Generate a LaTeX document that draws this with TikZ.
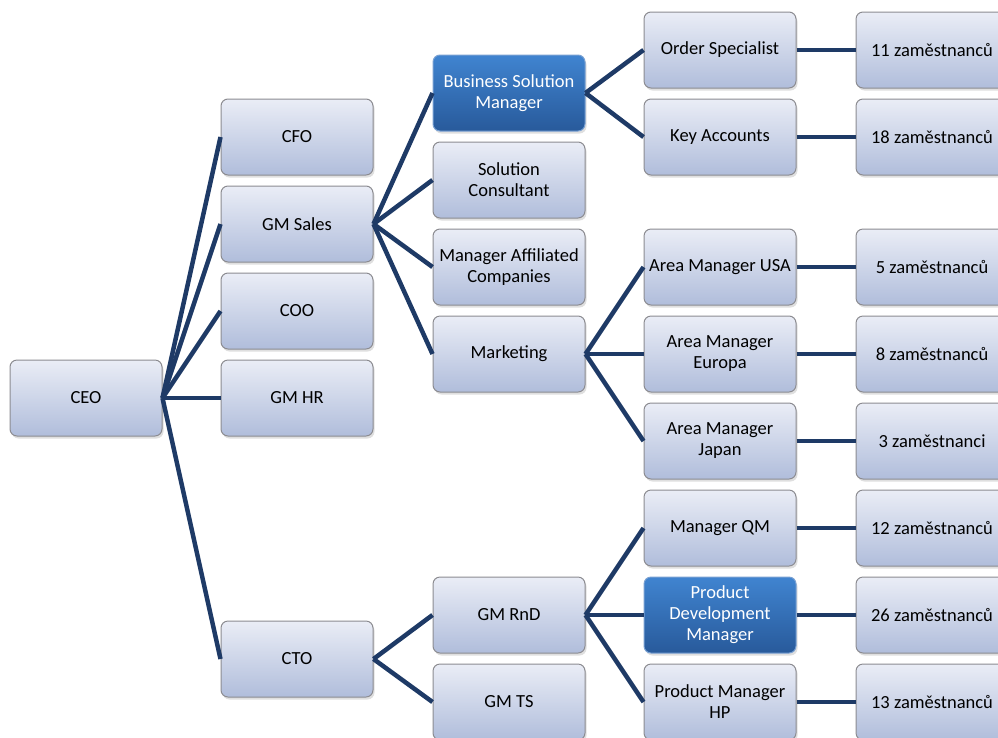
\documentclass[tikz,border=0pt]{standalone}
\usepackage{fontspec}
\setmainfont{Carlito}
\usetikzlibrary{shadows}
\definecolor{lineblue}{RGB}{30,58,102}
\definecolor{boxtop}{RGB}{234,237,246}
\definecolor{boxbot}{RGB}{176,189,219}
\definecolor{boxedge}{RGB}{140,140,145}
\definecolor{hitop}{RGB}{64,132,208}
\definecolor{hibot}{RGB}{40,90,155}
\definecolor{hiedge}{RGB}{120,160,210}
\tikzset{
  box/.style={rectangle, rounded corners=7pt, minimum width=152pt, minimum height=76pt,
    inner sep=1pt, align=center, draw=boxedge, line width=1pt,
    top color=boxtop, bottom color=boxbot,
    font=\fontsize{18.5}{21}\selectfont, text=black,
    drop shadow={opacity=0.25, shadow xshift=1.5pt, shadow yshift=-2.5pt}},
  hibox/.style={box, draw=hiedge, top color=hitop, bottom color=hibot, text=white},
  conn/.style={draw=lineblue, line width=4.5pt}
}
\begin{document}
\begin{tikzpicture}[x=1pt,y=-1pt]
\useasboundingbox (0,0) rectangle (998,737);
\clip (0,0) rectangle (998,737);
% column 0
\node[box] (ceo) at (86,398) {CEO};
% column 1
\node[box] (cfo) at (297,137) {CFO};
\node[box] (gms) at (297,224) {GM Sales};
\node[box] (coo) at (297,311) {COO};
\node[box] (gmhr) at (297,398) {GM HR};
\node[box] (cto) at (297,659) {CTO};
% column 2
\node[hibox] (bsm) at (509,93) {Business Solution\\Manager};
\node[box] (sc) at (509,180) {Solution\\Consultant};
\node[box] (mac) at (509,267) {Manager Affiliated\\Companies};
\node[box] (mkt) at (509,354) {Marketing};
\node[box] (rnd) at (509,615) {GM RnD};
\node[box] (ts) at (509,702) {GM TS};
% column 3
\node[box] (os) at (720,50) {Order Specialist};
\node[box] (ka) at (720,137) {Key Accounts};
\node[box] (usa) at (720,267) {Area Manager USA};
\node[box] (eur) at (720,354) {Area Manager\\Europa};
\node[box] (jap) at (720,441) {Area Manager\\Japan};
\node[box] (qm) at (720,528) {Manager QM};
\node[hibox] (pdm) at (720,615) {Product\\Development\\Manager};
\node[box] (hp) at (720,702) {Product Manager\\HP};
% column 4
\node[box] (n1) at (932,50) {11 zaměstnanců};
\node[box] (n2) at (932,137) {18 zaměstnanců};
\node[box] (n3) at (932,267) {5 zaměstnanců};
\node[box] (n4) at (932,354) {8 zaměstnanců};
\node[box] (n5) at (932,441) {3 zaměstnanci};
\node[box] (n6) at (932,528) {12 zaměstnanců};
\node[box] (n7) at (932,615) {26 zaměstnanců};
\node[box] (n8) at (932,702) {13 zaměstnanců};
% connectors
\foreach \c in {cfo,gms,coo,gmhr,cto} \draw[conn] (ceo.east) -- (\c.west);
\foreach \c in {bsm,sc,mac,mkt} \draw[conn] (gms.east) -- (\c.west);
\foreach \c in {rnd,ts} \draw[conn] (cto.east) -- (\c.west);
\foreach \c in {os,ka} \draw[conn] (bsm.east) -- (\c.west);
\foreach \c in {usa,eur,jap} \draw[conn] (mkt.east) -- (\c.west);
\foreach \c in {qm,pdm,hp} \draw[conn] (rnd.east) -- (\c.west);
\draw[conn] (os) -- (n1);
\draw[conn] (ka) -- (n2);
\draw[conn] (usa) -- (n3);
\draw[conn] (eur) -- (n4);
\draw[conn] (jap) -- (n5);
\draw[conn] (qm) -- (n6);
\draw[conn] (pdm) -- (n7);
\draw[conn] (hp) -- (n8);
\end{tikzpicture}
\end{document}
